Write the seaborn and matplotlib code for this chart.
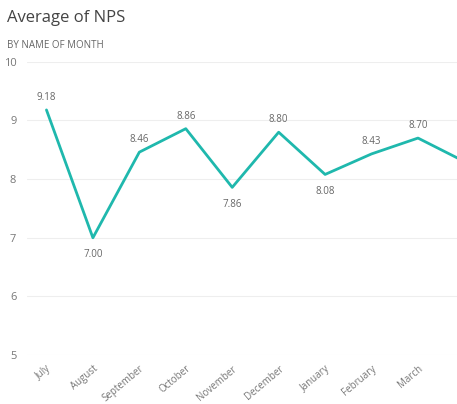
import matplotlib
matplotlib.use("Agg")
import matplotlib.pyplot as plt
import seaborn as sns
import pandas as pd

months = ["July", "August", "September", "October", "November", "December",
          "January", "February", "March", "April"]
nps = [9.18, 7.00, 8.46, 8.86, 7.86, 8.80, 8.08, 8.43, 8.70, 8.30]
labels_shown = 9  # last point is cut off by the chart edge

df = pd.DataFrame({"month": months, "nps": nps, "x": range(len(months))})

sns.set_style("white")
plt.rcParams['font.family'] = ['Open Sans', 'DejaVu Sans']

fig = plt.figure(figsize=(4.57, 4.04), dpi=100)
ax = fig.add_axes([0.06, 0.121, 0.94, 0.726])
sns.lineplot(data=df, x="x", y="nps", color="#1fb8ad", linewidth=2, ax=ax)

ax.set_xlim(-0.41, 8.84)
ax.set_ylim(5, 10)
ax.set_yticks([5, 6, 7, 8, 9, 10])
ax.set_xticks(range(labels_shown))
ax.set_xticklabels(months[:labels_shown], rotation=40, ha="right",
                   rotation_mode="anchor", fontsize=7, color="#777777")
ax.tick_params(axis="y", labelsize=8, colors="#777777", length=0, pad=8)
ax.tick_params(axis="x", length=0, pad=6)
ax.grid(axis="y", color="#eeeeee", linewidth=0.8)
for s in ax.spines.values():
    s.set_visible(False)
ax.set_xlabel("")
ax.set_ylabel("")

for i in range(labels_shown):
    v = nps[i]
    prev_v = nps[i - 1] if i > 0 else v + 1
    nxt = nps[i + 1]
    low = v < prev_v and v < nxt
    dy = -12 if low else 9
    ax.annotate(f"{v:.2f}", (i, v), xytext=(0, dy), textcoords="offset points",
                ha="center", va="center", fontsize=7, color="#666666")

fig.text(0.015, 0.945, "Average of NPS", fontsize=12, color="#444444")
fig.text(0.015, 0.88, "BY NAME OF MONTH", fontsize=7, color="#666666")

fig.savefig("out.png", dpi=100)
